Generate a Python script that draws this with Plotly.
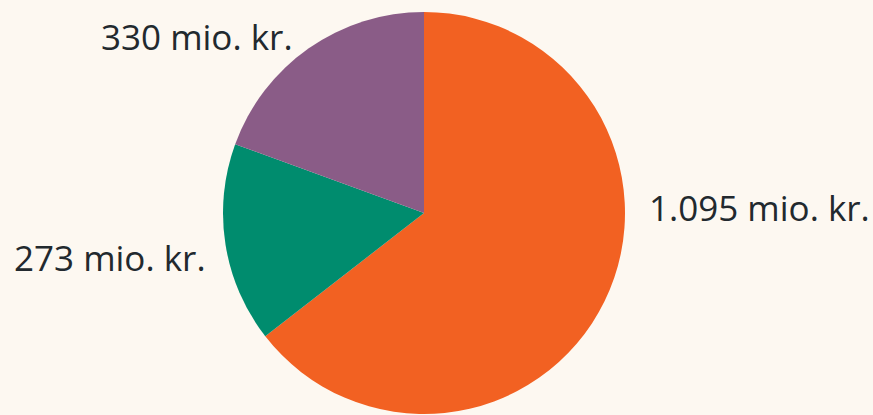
import plotly.graph_objects as go

categories = ["A", "B", "C"]
values = [1095, 273, 330]
colors = ["#f26122", "#008c6e", "#8a5c87"]

def fmt(v):
    return f"{v:,}".replace(",", ".") + " mio. kr."

W, H = 873, 415
cx, cy, r = 424, 213, 201

fig = go.Figure(go.Pie(
    labels=categories,
    values=values,
    marker=dict(colors=colors, line=dict(width=0)),
    sort=False,
    direction="clockwise",
    rotation=0,
    textinfo="none",
    hoverinfo="label+value",
    showlegend=False,
    domain=dict(x=[(cx - r) / W, (cx + r) / W], y=[(H - cy - r) / H, (H - cy + r) / H]),
))

label_pos = [
    (647 / W, 1 - 207 / H, "left"),
    (208 / W, 1 - 257 / H, "right"),
    (295 / W, 1 - 37 / H, "right"),
]
for v, (x, y, anchor) in zip(values, label_pos):
    fig.add_annotation(x=x, y=y, xref="paper", yref="paper", text=fmt(v),
                       showarrow=False, xanchor=anchor, yanchor="middle",
                       font=dict(family="Open Sans", size=35, color="#22292e"))

fig.update_layout(
    width=W, height=H,
    margin=dict(l=0, r=0, t=0, b=0),
    paper_bgcolor="#fdf8f1",
    plot_bgcolor="#fdf8f1",
)
fig.write_html("out.html", config={"displayModeBar": False},
               post_script="document.body.style.margin='0';document.body.style.background='#fdf8f1';")
